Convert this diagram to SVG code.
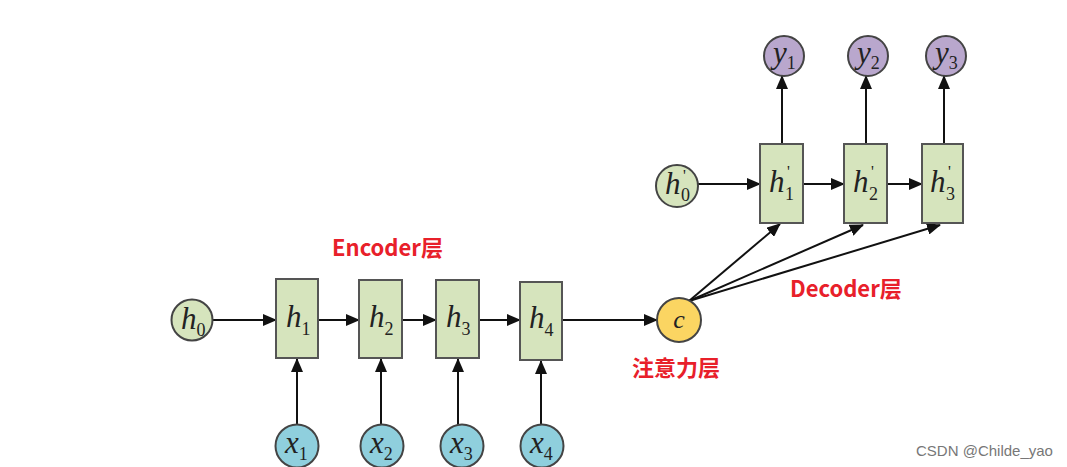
<svg xmlns="http://www.w3.org/2000/svg" width="1067" height="467" viewBox="0 0 1067 467">
<style>
.box{fill:#d6e4bd;stroke:#555;stroke-width:2}
.cg{fill:#d6e4bd;stroke:#444;stroke-width:2}
.cb{fill:#8fcfdd;stroke:#444;stroke-width:2}
.cp{fill:#b9a7cd;stroke:#444;stroke-width:2}
.cy{fill:#fbd562;stroke:#444;stroke-width:2}
.m{font-family:"Liberation Serif",serif;font-size:31px;fill:#222}
.i{font-style:italic}
.s{font-size:18px}
.p{font-size:16px}
.lbl{font-family:"Noto Sans CJK SC","Noto Sans",sans-serif;font-weight:bold;font-size:22px;fill:#e8202a}
.wm{font-family:"Liberation Sans","Noto Sans",sans-serif;font-size:15px;fill:#777}
.ln{stroke:#111;stroke-width:2;fill:none;marker-end:url(#ah)}
</style>
<defs>
<marker id="ah" markerWidth="14" markerHeight="12" refX="13" refY="6" orient="auto" markerUnits="userSpaceOnUse">
<path d="M0,0 L14,6 L0,12 Z" fill="#111"/>
</marker>
</defs>
<rect width="1067" height="467" fill="#fff"/>
<g id="connectors">
<line class="ln" x1="213" y1="320" x2="276" y2="320"/>
<line class="ln" x1="318" y1="320" x2="359" y2="320"/>
<line class="ln" x1="402" y1="320" x2="436" y2="320"/>
<line class="ln" x1="479" y1="320" x2="520" y2="320"/>
<line class="ln" x1="562" y1="320" x2="657" y2="320"/>
<line class="ln" x1="297" y1="425" x2="297" y2="359"/>
<line class="ln" x1="381" y1="425" x2="381" y2="359"/>
<line class="ln" x1="458" y1="425" x2="458" y2="359"/>
<line class="ln" x1="541" y1="425" x2="541" y2="361"/>
<line class="ln" x1="698" y1="184" x2="760" y2="184"/>
<line class="ln" x1="803" y1="184" x2="844" y2="184"/>
<line class="ln" x1="887" y1="184" x2="922" y2="184"/>
<line class="ln" x1="782" y1="144" x2="782" y2="76"/>
<line class="ln" x1="866" y1="144" x2="866" y2="76"/>
<line class="ln" x1="944" y1="144" x2="944" y2="76"/>
<line class="ln" x1="689" y1="301" x2="780" y2="224"/>
<line class="ln" x1="689" y1="301" x2="863" y2="225"/>
<line class="ln" x1="689" y1="301" x2="940" y2="225"/>
</g>
<g id="h0"><circle class="cg" cx="192" cy="320" r="20.5"/><text class="m" x="181" y="329"><tspan class="i">h</tspan><tspan class="s" dy="7">0</tspan></text></g>
<g id="h1"><rect class="box" x="276" y="279" width="42" height="79"/><text class="m" x="286" y="327"><tspan class="i">h</tspan><tspan class="s" dy="8">1</tspan></text></g>
<g id="h2"><rect class="box" x="359" y="280" width="43" height="78"/><text class="m" x="369" y="327"><tspan class="i">h</tspan><tspan class="s" dy="8">2</tspan></text></g>
<g id="h3"><rect class="box" x="436" y="280" width="43" height="78"/><text class="m" x="446" y="327"><tspan class="i">h</tspan><tspan class="s" dy="8">3</tspan></text></g>
<g id="h4"><rect class="box" x="520" y="282" width="42" height="78"/><text class="m" x="529" y="328"><tspan class="i">h</tspan><tspan class="s" dy="8">4</tspan></text></g>
<g id="c"><circle class="cy" cx="679" cy="320" r="22"/><text class="m i" x="679" y="328" text-anchor="middle" style="font-size:26px">c</text></g>
<g id="x1"><circle class="cb" cx="297" cy="446" r="21.5"/><text class="m" x="285" y="453"><tspan class="i">x</tspan><tspan class="s" dy="7">1</tspan></text></g>
<g id="x2"><circle class="cb" cx="382" cy="446" r="21.5"/><text class="m" x="370" y="453"><tspan class="i">x</tspan><tspan class="s" dy="7">2</tspan></text></g>
<g id="x3"><circle class="cb" cx="462" cy="446" r="21.5"/><text class="m" x="450" y="453"><tspan class="i">x</tspan><tspan class="s" dy="7">3</tspan></text></g>
<g id="x4"><circle class="cb" cx="542" cy="446" r="21.5"/><text class="m" x="530" y="453"><tspan class="i">x</tspan><tspan class="s" dy="7">4</tspan></text></g>
<g id="h0p"><circle class="cg" cx="677" cy="186" r="21"/><text class="m" x="665" y="194"><tspan class="i">h</tspan></text><text class="m p" x="683" y="181">'</text><text class="m s" x="681" y="201">0</text></g>
<g id="h1p"><rect class="box" x="760" y="144" width="43" height="79"/><text class="m" x="769" y="192"><tspan class="i">h</tspan></text><text class="m p" x="787" y="177">'</text><text class="m s" x="785" y="200">1</text></g>
<g id="h2p"><rect class="box" x="844" y="144" width="43" height="79"/><text class="m" x="853" y="192"><tspan class="i">h</tspan></text><text class="m p" x="871" y="177">'</text><text class="m s" x="869" y="200">2</text></g>
<g id="h3p"><rect class="box" x="922" y="144" width="41" height="79"/><text class="m" x="930" y="192"><tspan class="i">h</tspan></text><text class="m p" x="948" y="177">'</text><text class="m s" x="946" y="200">3</text></g>
<g id="y1"><circle class="cp" cx="784" cy="56" r="20"/><text class="m" x="773" y="63"><tspan class="i">y</tspan><tspan class="s" dy="6">1</tspan></text></g>
<g id="y2"><circle class="cp" cx="868" cy="56" r="20"/><text class="m" x="857" y="63"><tspan class="i">y</tspan><tspan class="s" dy="6">2</tspan></text></g>
<g id="y3"><circle class="cp" cx="946" cy="56" r="20"/><text class="m" x="935" y="63"><tspan class="i">y</tspan><tspan class="s" dy="6">3</tspan></text></g>
<text class="lbl" x="332" y="256">Encoder层</text>
<text class="lbl" x="790" y="297">Decoder层</text>
<text class="lbl" x="632" y="376">注意力层</text>
<text class="wm" x="916" y="456">CSDN @Childe_yao</text>
</svg>
